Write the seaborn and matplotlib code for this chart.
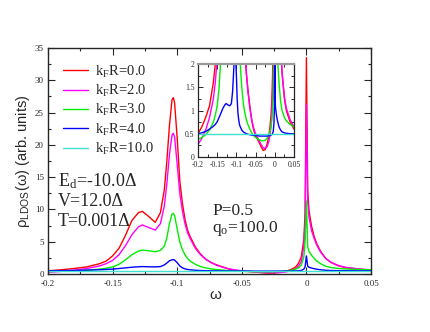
import pandas as pd
import seaborn as sns
import matplotlib.pyplot as plt
from matplotlib.ticker import MultipleLocator, FixedLocator, FixedFormatter

# energy grid (denser near the resonances) and LDOS
omega = [-0.2, -0.19, -0.18, -0.17, -0.16, -0.155, -0.15, -0.145, -0.14, -0.135,
         -0.13, -0.127, -0.122, -0.117, -0.113, -0.11, -0.108, -0.106, -0.104, -0.103,
         -0.102, -0.1, -0.098, -0.096, -0.094, -0.092, -0.09, -0.086, -0.082, -0.078,
         -0.074, -0.07, -0.065, -0.06, -0.055, -0.05, -0.045, -0.04, -0.035, -0.03,
         -0.025, -0.02, -0.015, -0.0125, -0.01, -0.008, -0.006, -0.004, -0.002, -0.001,
         0.0, 0.001, 0.002, 0.004, 0.006, 0.008, 0.011, 0.015, 0.019, 0.025,
         0.03, 0.04, 0.05]

rho_kr0 = [0.5, 0.65, 0.85, 1.1, 1.6, 2.0, 2.8, 4.0, 6.0, 8.3,
           9.5, 9.7, 8.9, 8.0, 9.5, 13.0, 17.5, 23.0, 27.0, 27.3,
           26.5, 21.0, 14.5, 11.0, 8.5, 6.8, 5.8, 4.2, 3.1, 2.3,
           1.8, 1.45, 1.1, 0.78, 0.58, 0.46, 0.38, 0.3, 0.21, 0.14,
           0.16, 0.28, 0.48, 0.65, 0.88, 1.15, 1.7, 2.6, 5.3, 9.5,
           33.5, 13.0, 9.8, 7.4, 5.8, 4.7, 3.5, 2.4, 1.8, 1.25,
           1.0, 0.75, 0.6]

rho_kr2 = [0.27, 0.4, 0.58, 0.85, 1.25, 1.6, 2.1, 3.0, 4.4, 6.1,
           7.3, 7.6, 7.2, 6.8, 7.8, 10.5, 14.0, 18.5, 21.5, 21.8,
           21.2, 17.0, 12.5, 9.8, 7.8, 6.4, 5.5, 4.0, 3.0, 2.3,
           1.8, 1.4, 1.05, 0.8, 0.62, 0.5, 0.42, 0.34, 0.26, 0.2,
           0.18, 0.22, 0.35, 0.48, 0.65, 0.88, 1.25, 1.9, 4.2, 8.0,
           26.3, 11.5, 8.8, 6.7, 5.5, 4.5, 3.4, 2.4, 1.8, 1.3,
           1.05, 0.8, 0.65]

rho_kr3 = [0.38, 0.42, 0.48, 0.58, 0.75, 0.9, 1.1, 1.5, 2.2, 3.0,
           3.55, 3.7, 3.6, 3.45, 3.65, 4.3, 5.6, 7.8, 9.3, 9.4,
           9.0, 7.0, 5.0, 3.8, 3.0, 2.4, 2.0, 1.5, 1.15, 0.95,
           0.8, 0.7, 0.6, 0.52, 0.46, 0.42, 0.39, 0.37, 0.35, 0.35,
           0.36, 0.4, 0.48, 0.55, 0.65, 0.78, 0.98, 1.35, 2.6, 5.0,
           11.3, 4.2, 3.5, 2.9, 2.4, 2.0, 1.6, 1.2, 1.0, 0.85,
           0.78, 0.7, 0.65]

rho_kr4 = [0.5, 0.52, 0.55, 0.6, 0.66, 0.7, 0.76, 0.85, 0.95, 1.05,
           1.12, 1.15, 1.12, 1.1, 1.15, 1.4, 1.7, 2.05, 2.2, 2.22,
           2.15, 1.75, 1.25, 0.95, 0.8, 0.7, 0.65, 0.58, 0.54, 0.52,
           0.5, 0.49, 0.48, 0.47, 0.47, 0.46, 0.46, 0.45, 0.45, 0.45,
           0.45, 0.45, 0.46, 0.46, 0.47, 0.48, 0.5, 0.55, 0.75, 1.1,
           2.8, 1.2, 1.05, 0.92, 0.82, 0.74, 0.65, 0.58, 0.54, 0.52,
           0.51, 0.5, 0.5]

omega_kr10 = [-0.2, -0.1, 0.0, 0.05]
rho_kr10 = [0.5, 0.5, 0.5, 0.5]

labels = ['k$_\\mathregular{F}$R=0.0', 'k$_\\mathregular{F}$R=2.0', 'k$_\\mathregular{F}$R=3.0',
          'k$_\\mathregular{F}$R=4.0', 'k$_\\mathregular{F}$R=10.0']
colors = ['#ff0000', '#ff00ff', '#00ee00', '#0000ff', '#40e0d0']

xtick_main = ['-0.2', '-0.15', '-0.1', '-0.05', '0', '0.05']
ytick_main = ['0', '5', '10', '15', '20', '25', '30', '35']
ytick_inset = ['0', '0.5', '1', '1.5', '2']

frames = []
for lab, x, y in zip(labels, [omega] * 4 + [omega_kr10],
                     [rho_kr0, rho_kr2, rho_kr3, rho_kr4, rho_kr10]):
    frames.append(pd.DataFrame({'omega': x, 'rho': y, 'curve': lab}))
df = pd.concat(frames, ignore_index=True)

sns.set_style('ticks')
plt.rcParams['font.family'] = ['Liberation Serif', 'DejaVu Serif']
plt.rcParams['mathtext.fontset'] = 'stix'

fig = plt.figure(figsize=(4.3, 3.32), dpi=100)
W, H = 430, 332
ax = fig.add_axes([48 / W, 1 - 274 / H, 323 / W, 226 / H])

sns.lineplot(data=df, x='omega', y='rho', hue='curve', hue_order=labels,
             palette=dict(zip(labels, colors)), estimator=None, linewidth=1.0, ax=ax)

ax.set_xlim(-0.2, 0.05)
ax.set_ylim(0, 35)
ax.xaxis.set_major_locator(FixedLocator([-0.2, -0.15, -0.1, -0.05, 0.0, 0.05]))
ax.xaxis.set_major_formatter(FixedFormatter(xtick_main))
ax.xaxis.set_minor_locator(MultipleLocator(0.025))
ax.yaxis.set_major_locator(FixedLocator(range(0, 36, 5)))
ax.yaxis.set_major_formatter(FixedFormatter(ytick_main))
ax.yaxis.set_minor_locator(MultipleLocator(2.5))
ax.tick_params(which='both', direction='in', top=True, right=True, labelsize=6.5, width=0.8)
ax.tick_params(axis='x', pad=4)
ax.tick_params(axis='y', pad=3)
ax.tick_params(which='major', length=5)
ax.tick_params(which='minor', length=2.5)
for s in ax.spines.values():
    s.set_linewidth(1.0)

ax.set_xlabel('ω', fontsize=11, family=['Liberation Sans', 'DejaVu Sans'])
ax.xaxis.set_label_coords((215 - 48) / 323, -0.06)
ax.set_ylabel('ρ$_\\mathregular{LDOS}$(ω) (arb. units)', fontsize=10.5,
              family=['Liberation Sans', 'DejaVu Sans'])
ax.yaxis.set_label_coords(-0.05, 0.5)

handles, labs = ax.get_legend_handles_labels()
ax.legend(handles, labs, loc='upper left', bbox_to_anchor=(0.02, 0.97), frameon=False,
          fontsize=10.5, handlelength=1.7, handletextpad=0.5, labelspacing=0.22, borderaxespad=0.2)

ax.text(58 / W, 1 - 181 / H, 'E$_\\mathregular{d}$=-10.0Δ', transform=fig.transFigure,
        fontsize=13, va='center', ha='left')
ax.text(58 / W, 1 - 201 / H, 'V=12.0Δ', transform=fig.transFigure,
        fontsize=13, va='center', ha='left')
ax.text(58 / W, 1 - 221 / H, 'T=0.001Δ', transform=fig.transFigure,
        fontsize=13, va='center', ha='left')
ax.text(212 / W, 1 - 211 / H, 'P=0.5', transform=fig.transFigure,
        fontsize=12.5, va='center', ha='left')
ax.text(212 / W, 1 - 229 / H, 'q$_\\mathregular{o}$=100.0', transform=fig.transFigure,
        fontsize=12.5, va='center', ha='left')

# inset: zoom on the low-density region
axi = fig.add_axes([198 / W, 1 - 157 / H, 96 / W, 93 / H])
sns.lineplot(data=df, x='omega', y='rho', hue='curve', hue_order=labels,
             palette=dict(zip(labels, colors)), estimator=None, linewidth=1.0,
             legend=False, ax=axi)
axi.set_xlim(-0.2, 0.05)
axi.set_ylim(0, 2)
axi.set_xlabel('')
axi.set_ylabel('')
axi.xaxis.set_major_locator(FixedLocator([-0.2, -0.15, -0.1, -0.05, 0.0, 0.05]))
axi.xaxis.set_major_formatter(FixedFormatter(xtick_main))
axi.xaxis.set_minor_locator(MultipleLocator(0.025))
axi.yaxis.set_major_locator(FixedLocator([0, 0.5, 1, 1.5, 2]))
axi.yaxis.set_major_formatter(FixedFormatter(ytick_inset))
axi.yaxis.set_minor_locator(MultipleLocator(0.25))
axi.tick_params(which='both', direction='in', top=True, right=True, labelsize=5.5, width=0.7)
axi.tick_params(axis='x', pad=3)
axi.tick_params(axis='y', pad=2.5)
axi.tick_params(which='major', length=3.5)
axi.tick_params(which='minor', length=2)
for s in axi.spines.values():
    s.set_linewidth(0.9)
axi.spines['top'].set_color('#999999')
axi.spines['top'].set_linewidth(1.6)

fig.savefig('out.png', dpi=100)
